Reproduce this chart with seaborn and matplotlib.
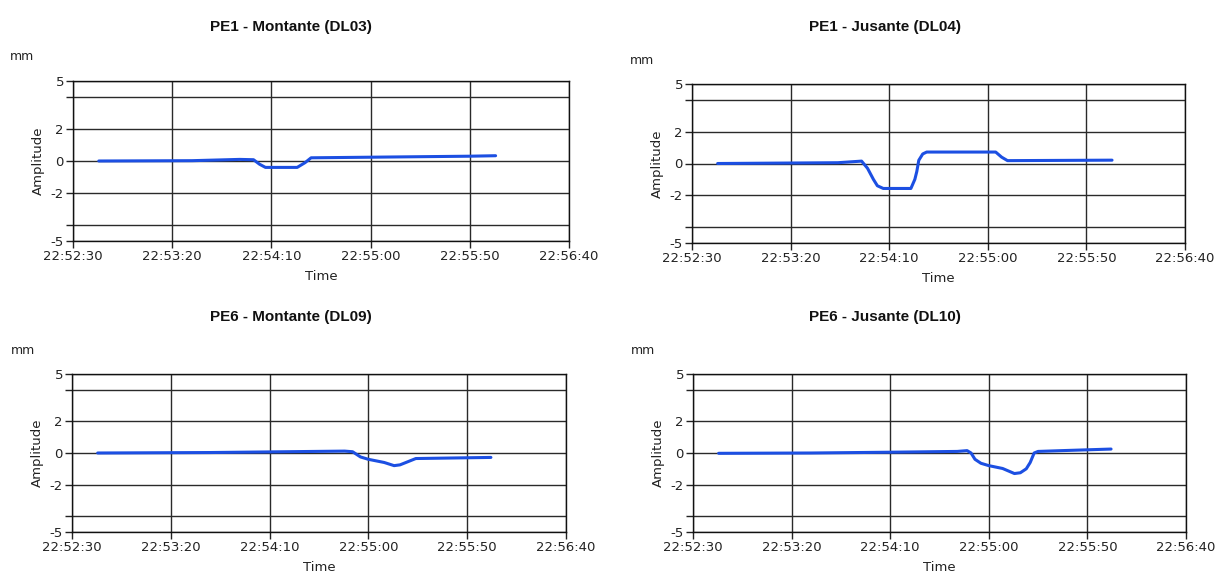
import matplotlib
matplotlib.use("Agg")
import matplotlib.pyplot as plt
import seaborn as sns
import pandas as pd

# ---------------- data ----------------
titles = ["PE1 - Montante (DL03)", "PE1 - Jusante (DL04)",
          "PE6 - Montante (DL09)", "PE6 - Jusante (DL10)"]

t_dl03 = ["22:52:43", "22:53:30", "22:53:54", "22:54:01", "22:54:04", "22:54:07",
          "22:54:23", "22:54:27", "22:54:30", "22:55:10", "22:55:50", "22:56:03"]
v_dl03 = [0.0, 0.02, 0.1, 0.08, -0.2, -0.4, -0.4, -0.1, 0.2, 0.25, 0.3, 0.33]

t_dl04 = ["22:52:43", "22:53:44", "22:53:56", "22:53:59", "22:54:02", "22:54:04",
          "22:54:07", "22:54:21", "22:54:23", "22:54:24", "22:54:25", "22:54:27",
          "22:54:29", "22:55:04", "22:55:07", "22:55:10", "22:56:03"]
v_dl04 = [0.0, 0.05, 0.15, -0.3, -1.0, -1.4, -1.57, -1.57, -1.0, -0.5, 0.2, 0.6,
          0.72, 0.72, 0.4, 0.18, 0.21]

t_dl09 = ["22:52:43", "22:53:40", "22:54:48", "22:54:52", "22:54:56", "22:55:00",
          "22:55:08", "22:55:13", "22:55:16", "22:55:20", "22:55:24", "22:56:02"]
v_dl09 = [0.0, 0.03, 0.12, 0.08, -0.25, -0.4, -0.6, -0.8, -0.75, -0.55, -0.35, -0.28]

t_dl10 = ["22:52:43", "22:53:30", "22:54:10", "22:54:44", "22:54:49", "22:54:51",
          "22:54:53", "22:54:56", "22:55:00", "22:55:07", "22:55:13", "22:55:16",
          "22:55:19", "22:55:21", "22:55:23", "22:55:25", "22:55:37", "22:56:02"]
v_dl10 = [-0.02, 0.0, 0.05, 0.1, 0.15, 0.0, -0.4, -0.65, -0.8, -0.98, -1.3, -1.25,
          -1.0, -0.6, 0.0, 0.1, 0.15, 0.25]

times_list = [t_dl03, t_dl04, t_dl09, t_dl10]
values_list = [v_dl03, v_dl04, v_dl09, v_dl10]

x_tick_labels = ["22:52:30", "22:53:20", "22:54:10", "22:55:00", "22:55:50", "22:56:40"]
y_ticks = [-5, -4, -2, 0, 2, 4, 5]
y_tick_labels = ["-5", "", "-2", "0", "2", "", "5"]

# ---------------- layout ----------------
W, H = 1224, 575
sns.set_theme(style="white")
plt.rcParams['font.family'] = ['DejaVu Sans']

fig = plt.figure(figsize=(W / 100, H / 100), dpi=100)
fig.patch.set_facecolor("white")

# axes boxes in pixels: left, top, right, bottom
boxes = [(73, 81, 569, 241), (692, 84, 1185, 243),
         (72, 374, 566, 532), (693, 374, 1186, 532)]
title_pos = [(291, 27), (885, 27), (291, 317), (885, 317)]
mm_pos = [(10, 57), (630, 61), (11, 350), (631, 350)]

day = "2000-01-01 "
line_color = "#1c4fe2"
grid_color = "#2a2a2a"

for i in range(4):
    l, t, r, b = boxes[i]
    ax = fig.add_axes([l / W, 1 - b / H, (r - l) / W, (b - t) / H])
    df = pd.DataFrame({"Time": pd.to_datetime([day + s for s in times_list[i]]),
                       "Amplitude": values_list[i]})
    sns.lineplot(data=df, x="Time", y="Amplitude", ax=ax, color=line_color,
                 linewidth=2.2, estimator=None, sort=False)

    xt = pd.to_datetime([day + s for s in x_tick_labels])
    ax.set_xlim(xt[0], xt[-1])
    ax.set_xticks(xt)
    ax.set_xticklabels(x_tick_labels)
    ax.set_ylim(-5, 5)
    ax.set_yticks(y_ticks)
    ax.set_yticklabels(y_tick_labels)

    ax.tick_params(axis="both", which="major", direction="out", length=5,
                   width=1.0, color="#222222", labelsize=9.5, pad=1.5,
                   labelcolor="#222222", bottom=True, left=True)

    ax.grid(True, color=grid_color, linewidth=1.0)
    ax.set_axisbelow(True)
    for s in ax.spines.values():
        s.set_visible(True)
        s.set_color("#111111")
        s.set_linewidth(1.0)

    ax.set_xlabel("Time", fontsize=9.5, labelpad=5, color="#222222")
    ax.set_ylabel("Amplitude", fontsize=9.5, labelpad=4, color="#222222")

    fig.text(title_pos[i][0] / W, 1 - title_pos[i][1] / H, titles[i],
             ha="center", va="center", fontsize=11, fontweight="bold",
             family=["Liberation Sans", "DejaVu Sans"], color="#111111")
    fig.text(mm_pos[i][0] / W, 1 - mm_pos[i][1] / H, "mm", ha="left",
             va="center", fontsize=9, color="#222222")

fig.savefig("out.png", dpi=100, facecolor="white")
